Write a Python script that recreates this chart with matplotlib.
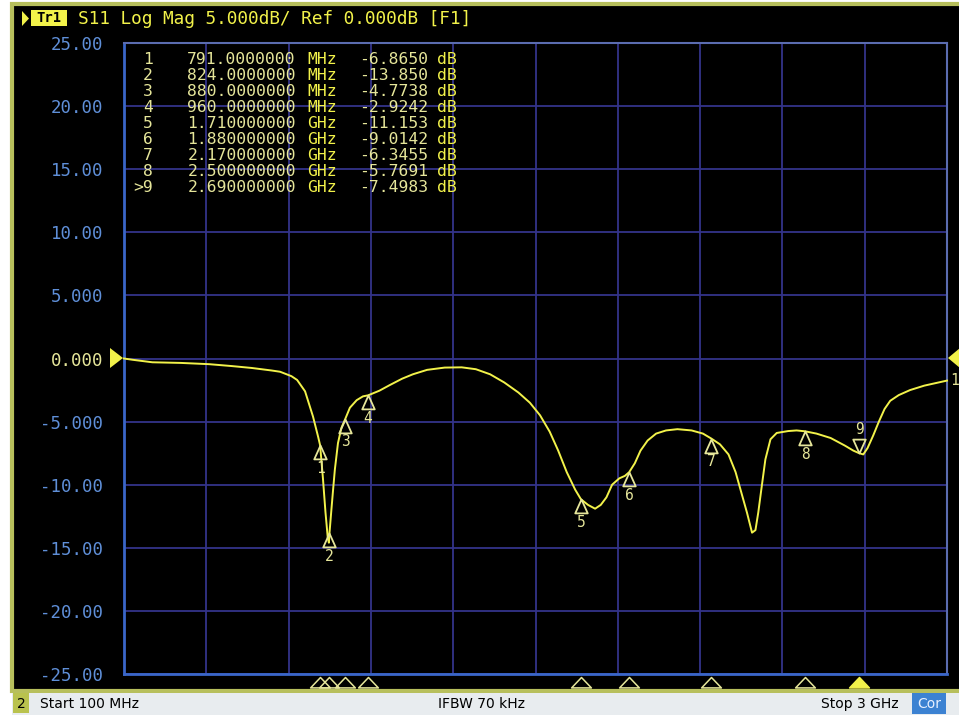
import matplotlib
matplotlib.use('Agg')
import matplotlib.pyplot as plt
from matplotlib.path import Path
from matplotlib.patches import Rectangle, Polygon
import matplotlib.transforms as mtransforms

# ---------------- data ----------------
freq_mhz = [100, 130, 200, 300, 400, 480, 550, 620, 650, 690, 710, 738, 766, 784, 791,
            801, 810, 818, 822, 824, 830, 836, 843, 854, 866, 880, 896, 920, 942, 960,
            1000, 1037, 1080, 1118, 1168, 1230, 1290, 1340, 1390, 1440, 1490, 1530, 1566,
            1600, 1630, 1660, 1690, 1710, 1735, 1760, 1780, 1800, 1820, 1845, 1865, 1880,
            1900, 1920, 1945, 1975, 2010, 2050, 2100, 2140, 2170, 2200, 2230, 2255, 2275,
            2295, 2313, 2325, 2335, 2345, 2360, 2378, 2400, 2440, 2470, 2500, 2540, 2590,
            2640, 2670, 2690, 2705, 2720, 2740, 2760, 2780, 2800, 2830, 2870, 2920, 2960, 3000]
s11_db = [0.0, -0.1, -0.3, -0.35, -0.45, -0.6, -0.75, -0.95, -1.05, -1.4, -1.7, -2.6, -4.6, -6.2, -6.87,
          -9.5, -12.2, -14.2, -14.6, -13.85, -12.2, -10.6, -8.8, -6.7, -5.5, -4.77, -3.9, -3.3, -3.0, -2.92,
          -2.55, -2.1, -1.6, -1.25, -0.9, -0.72, -0.7, -0.85, -1.25, -1.9, -2.7, -3.5, -4.5,
          -5.8, -7.3, -9.0, -10.4, -11.15, -11.6, -11.9, -11.6, -11.0, -10.0, -9.5, -9.3, -9.01,
          -8.3, -7.3, -6.5, -5.95, -5.7, -5.6, -5.7, -5.95, -6.35, -6.8, -7.6, -9.0, -10.6,
          -12.2, -13.8, -13.6, -12.2, -10.5, -8.0, -6.4, -5.9, -5.75, -5.7, -5.77, -5.95, -6.3,
          -6.9, -7.3, -7.5, -7.6, -7.1, -6.1, -5.0, -4.0, -3.35, -2.9, -2.5, -2.15, -1.95, -1.75]

marker_ids = ['1', '2', '3', '4', '5', '6', '7', '8', '9']
marker_freq_mhz = [791, 824, 880, 960, 1710, 1880, 2170, 2500, 2690]
marker_db = [-6.8650, -13.850, -4.7738, -2.9242, -11.153, -9.0142, -6.3455, -5.7691, -7.4983]
marker_freq_txt = ['791.0000000', '824.0000000', '880.0000000', '960.0000000',
                   '1.710000000', '1.880000000', '2.170000000', '2.500000000', '2.690000000']
marker_unit = ['MHz', 'MHz', 'MHz', 'MHz', 'GHz', 'GHz', 'GHz', 'GHz', 'GHz']
marker_val_txt = ['-6.8650', '-13.850', '-4.7738', '-2.9242', '-11.153',
                  '-9.0142', '-6.3455', '-5.7691', '-7.4983']
active_marker = '9'

y_ticks = [25, 20, 15, 10, 5, 0, -5, -10, -15, -20, -25]
y_tick_labels = ['25.00', '20.00', '15.00', '10.00', '5.000', '0.000',
                 '-5.000', '-10.00', '-15.00', '-20.00', '-25.00']
x_start, x_stop = 100, 3000
x_divisions = 10

header_text = 'S11 Log Mag 5.000dB/ Ref 0.000dB [F1]'
status_start = 'Start 100 MHz'
status_ifbw = 'IFBW 70 kHz'
status_stop = 'Stop 3 GHz'

# ---------------- styling ----------------
W, H = 959, 715
MONO = 'DejaVu Sans Mono'
YEL = '#f2f24a'
PALE = '#e6e69a'
BLUE_TXT = '#5f8fd8'
GRID = '#33338a'
AXBLUE = '#3a66c8'


def fx(x):
    return x / W


def fy(y):
    return 1 - y / H


fig = plt.figure(figsize=(W / 100, H / 100), dpi=100, facecolor='white')

# instrument panel (background)
fig.patches.append(Rectangle((fx(12), fy(691)), 1.0, (691 - 4) / H, transform=fig.transFigure,
                             facecolor='black', edgecolor='#b7bf5c', linewidth=3, zorder=-10))
# status bar
fig.patches.append(Rectangle((fx(12), 0), 1.0, (H - 693) / H, transform=fig.transFigure,
                             facecolor='#e8ecef', edgecolor='none', zorder=-9))
fig.patches.append(Rectangle((fx(13), fy(713)), 16 / W, 20 / H, transform=fig.transFigure,
                             facecolor='#b9c24e', edgecolor='none', zorder=-8))
fig.text(fx(21), fy(704), '2', color='black', fontsize=10, ha='center', va='center', zorder=3)
fig.text(fx(40), fy(704), status_start, color='black', fontsize=10, ha='left', va='center', zorder=3)
fig.text(fx(481), fy(704), status_ifbw, color='black', fontsize=10, ha='center', va='center', zorder=3)
fig.text(fx(899), fy(704), status_stop, color='black', fontsize=10, ha='right', va='center', zorder=3)
fig.patches.append(Rectangle((fx(912), fy(714)), 34 / W, 21 / H, transform=fig.transFigure,
                             facecolor='#3c82d2', edgecolor='none', zorder=-8))
fig.text(fx(929), fy(704), 'Cor', color='#e8f0ff', fontsize=10, ha='center', va='center', zorder=3)

# header
fig.patches.append(Polygon([(fx(22), fy(11)), (fx(22), fy(26)), (fx(29), fy(18.5))], closed=True,
                           transform=fig.transFigure, facecolor=YEL, edgecolor='none', zorder=-8))
fig.patches.append(Rectangle((fx(31), fy(26)), 36 / W, 16 / H, transform=fig.transFigure,
                             facecolor=YEL, edgecolor='none', zorder=-8))
fig.text(fx(49), fy(18.5), 'Tr1', color='black', fontsize=10, family=MONO, fontweight='bold',
         ha='center', va='center', zorder=3)
fig.text(fx(78), fy(18.5), header_text, color=YEL, fontsize=12.8, family=MONO,
         ha='left', va='center', zorder=3)

# ---------------- axes ----------------
ax = fig.add_axes([fx(124), fy(674), (947 - 124) / W, (674 - 43) / H])
ax.set_zorder(1)
ax.set_facecolor('black')
ax.set_xlim(x_start, x_stop)
ax.set_ylim(-25, 25)
step = (x_stop - x_start) / x_divisions
ax.set_xticks([x_start + i * step for i in range(x_divisions + 1)])
ax.set_xticklabels([])
ax.set_yticks(y_ticks)
ax.set_yticklabels(y_tick_labels, family=MONO, fontsize=12.5)
for lab, val in zip(ax.get_yticklabels(), y_ticks):
    lab.set_color(PALE if val == 0 else BLUE_TXT)
ax.tick_params(length=0, pad=15)
ax.grid(True, color=GRID, linewidth=1.3)
ax.set_axisbelow(True)
for side in ['left', 'bottom']:
    ax.spines[side].set_color(AXBLUE)
    ax.spines[side].set_linewidth(2)
for side in ['top', 'right']:
    ax.spines[side].set_color('#5b6cb0')
    ax.spines[side].set_linewidth(1.5)

# trace
ax.plot(freq_mhz, s11_db, color=YEL, linewidth=1.4, zorder=5, clip_on=False)

# marker glyphs
tri_up = Path([(0, 0), (-0.45, -1), (0.45, -1), (0, 0)],
              [Path.MOVETO, Path.LINETO, Path.LINETO, Path.CLOSEPOLY])
tri_down = Path([(0, 0), (-0.45, 1), (0.45, 1), (0, 0)],
                [Path.MOVETO, Path.LINETO, Path.LINETO, Path.CLOSEPOLY])
for mid, mf, md in zip(marker_ids, marker_freq_mhz, marker_db):
    if mid == active_marker:
        ax.plot([mf], [md], marker=tri_down, markersize=20, markerfacecolor='none',
                markeredgecolor=PALE, markeredgewidth=1.3, zorder=6, linestyle='none')
        ax.annotate(mid, (mf, md), xytext=(0, 24), textcoords='offset pixels', color=PALE,
                    family=MONO, fontsize=10.5, ha='center', va='center', zorder=7)
    else:
        ax.plot([mf], [md], marker=tri_up, markersize=20, markerfacecolor='none',
                markeredgecolor=PALE, markeredgewidth=1.3, zorder=6, linestyle='none')
        ax.annotate(mid, (mf, md), xytext=(0, -23), textcoords='offset pixels', color=PALE,
                    family=MONO, fontsize=10.5, ha='center', va='center', zorder=7)

# bottom marker indicators
blend = mtransforms.blended_transform_factory(ax.transData, ax.transAxes)
tri_small = Path([(0, 0), (-0.95, -1), (0.95, -1), (0, 0)],
                 [Path.MOVETO, Path.LINETO, Path.LINETO, Path.CLOSEPOLY])
for mid, mf in zip(marker_ids, marker_freq_mhz):
    active = mid == active_marker
    ax.plot([mf], [-0.005], transform=blend, marker=tri_small, markersize=15,
            markerfacecolor=YEL if active else 'none', markeredgecolor=YEL if active else PALE,
            markeredgewidth=1.1, clip_on=False, linestyle='none', zorder=6)

# reference position markers
fig.patches.append(Polygon([(fx(110), fy(348)), (fx(110), fy(368)), (fx(123), fy(358))], closed=True,
                           transform=fig.transFigure, facecolor=YEL, edgecolor='none', zorder=3))
fig.patches.append(Polygon([(fx(948), fy(358)), (fx(960), fy(348)), (fx(960), fy(368))], closed=True,
                           transform=fig.transFigure, facecolor=YEL, edgecolor='none', zorder=3))
ax.annotate('1', (freq_mhz[-1], s11_db[-1]), xytext=(3, 0), textcoords='offset pixels',
            color=PALE, family=MONO, fontsize=10.5, ha='left', va='center', annotation_clip=False)

# marker table
row0, drow = 59, 16
for i, (mid, ft, un, vt) in enumerate(zip(marker_ids, marker_freq_txt, marker_unit, marker_val_txt)):
    y = fy(row0 + i * drow)
    lab = ('>' + mid) if mid == active_marker else mid
    fig.text(fx(153), y, lab, color=PALE, family=MONO, fontsize=11.8, ha='right', va='center', zorder=8)
    fig.text(fx(296), y, ft, color=PALE, family=MONO, fontsize=11.8, ha='right', va='center', zorder=8)
    fig.text(fx(307), y, un, color=YEL, family=MONO, fontsize=11.8, ha='left', va='center', zorder=8)
    fig.text(fx(428), y, vt, color=PALE, family=MONO, fontsize=11.8, ha='right', va='center', zorder=8)
    fig.text(fx(437), y, 'dB', color=YEL, family=MONO, fontsize=11.8, ha='left', va='center', zorder=8)

fig.savefig('out.png', dpi=100, facecolor='white')
